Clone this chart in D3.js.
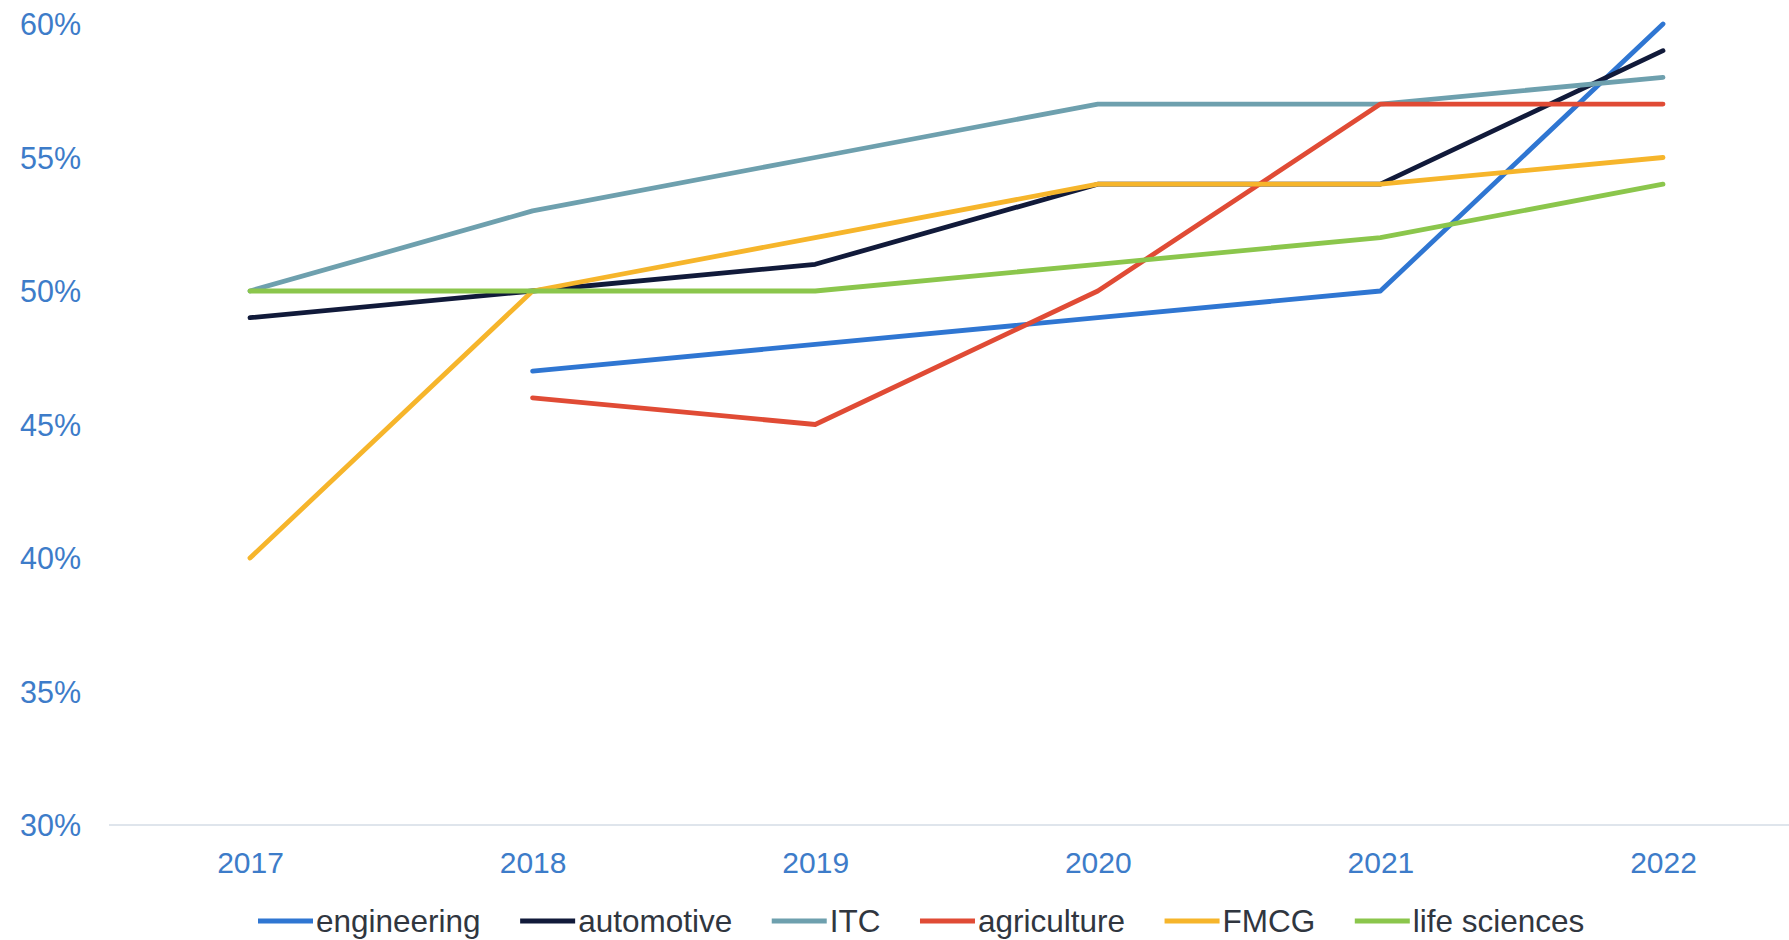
<!DOCTYPE html>
<html>
<head>
<meta charset="utf-8">
<script src="https://cdn.jsdelivr.net/npm/d3@7"></script>
<style>
  html, body { margin: 0; padding: 0; background: #fff; }
  svg { display: block; }
  text { font-family: "Liberation Sans", Arial, sans-serif; }
</style>
</head>
<body>
<svg id="chart" width="1789" height="940"></svg>
<script>
const years = ["2017", "2018", "2019", "2020", "2021", "2022"];
const yTicks = [30, 35, 40, 45, 50, 55, 60];
const seriesNames = ["engineering", "automotive", "ITC", "agriculture", "FMCG", "life sciences"];
const engineering = [null, 47, 48, 49, 50, 60];
const automotive = [49, 50, 51, 54, 54, 59];
const itc = [50, 53, 55, 57, 57, 58];
const agriculture = [null, 46, 45, 50, 57, 57];
const fmcg = [40, 50, 52, 54, 54, 55];
const lifeSciences = [50, 50, 50, 51, 52, 54];
const seriesColors = ["#2f76d2", "#111a3a", "#6ea0ae", "#e04b35", "#f6b52b", "#8bc64c"];

const seriesValues = [engineering, automotive, itc, agriculture, fmcg, lifeSciences];
const series = seriesNames.map((name, i) => ({ name, color: seriesColors[i], values: seriesValues[i] }));

const svg = d3.select("#chart");
const x = d3.scalePoint().domain(years).range([250, 1663]);
const y = d3.scaleLinear().domain([30, 60]).range([825, 24]);

// baseline
svg.append("line")
  .attr("x1", 109).attr("x2", 1789)
  .attr("y1", y(30)).attr("y2", y(30))
  .attr("stroke", "#d5dde6").attr("stroke-width", 1.5);

// y axis labels
const yAxis = d3.axisLeft(y).tickValues(yTicks).tickSize(0).tickPadding(0)
  .tickFormat(d => d + "%");
const yg = svg.append("g").attr("transform", "translate(81,0)").call(yAxis);
yg.select(".domain").remove();
yg.selectAll("text")
  .attr("fill", "#3d7cc9")
  .style("font-size", "30.5px")
  .attr("dy", "0.35em");

// x axis labels
const xAxis = d3.axisBottom(x).tickSize(0).tickPadding(0);
const xg = svg.append("g").attr("transform", "translate(0,862)").call(xAxis);
xg.select(".domain").remove();
xg.selectAll("text")
  .attr("fill", "#3d7cc9")
  .style("font-size", "30px")
  .attr("dy", "0.35em");

// lines
const line = d3.line()
  .defined(d => d.v !== null)
  .x(d => x(d.year))
  .y(d => y(d.v));

svg.append("g").selectAll("path")
  .data(series)
  .join("path")
  .attr("fill", "none")
  .attr("stroke", d => d.color)
  .attr("stroke-width", 4.8)
  .attr("stroke-linejoin", "round")
  .attr("stroke-linecap", "round")
  .attr("d", d => line(d.values.map((v, i) => ({ year: years[i], v }))));

// legend
const legend = svg.append("g").attr("transform", "translate(0,921)");
let lx = 258;
series.forEach(s => {
  legend.append("line")
    .attr("x1", lx).attr("x2", lx + 55)
    .attr("y1", 0).attr("y2", 0)
    .attr("stroke", s.color).attr("stroke-width", 5);
  const t = legend.append("text")
    .attr("x", lx + 58).attr("y", 0)
    .attr("dy", "0.35em")
    .attr("fill", "#30363f")
    .style("font-size", "31.5px")
    .text(s.name);
  lx += 58 + t.node().getComputedTextLength() + 39.5;
});
</script>
</body>
</html>
